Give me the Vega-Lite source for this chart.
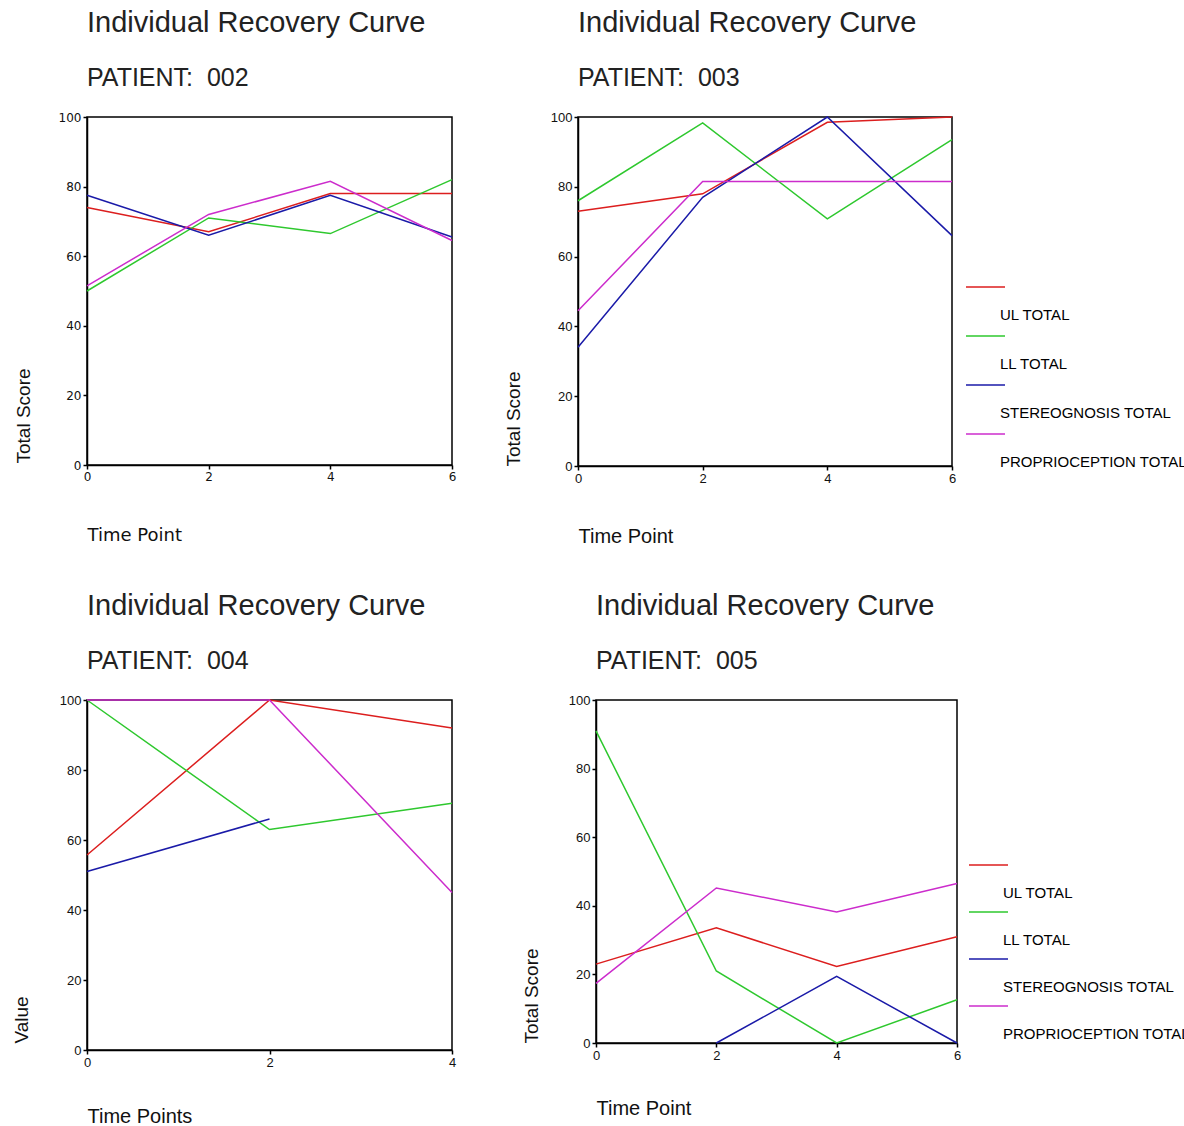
{
  "$schema": "https://vega.github.io/schema/vega-lite/v6.json",
  "autosize": {"type": "none"},
  "padding": {"left": 87, "top": 117, "right": 1097, "bottom": 1009},
  "background": "white",
  "bounds": "flush",
  "spacing": 583,
  "resolve": {"scale": {"color": "independent", "x": "independent", "y": "independent"}, "legend": {"color": "independent"}},
  "config": {
    "view": {"stroke": "#000", "strokeWidth": 1.5},
    "axis": {"domainColor": "#000", "domainWidth": 1.5, "tickColor": "#000", "tickWidth": 1.5, "tickSize": 4, "grid": false, "labelColor": "#111", "titleColor": "#111", "labelFont": "Liberation Sans", "labelFontSize": 13, "titleFont": "Liberation Sans", "titleFontWeight": "normal", "titleFontSize": 20, "labelPadding": 2, "labelFlush": false},
    "title": {"font": "Liberation Sans", "fontSize": 29, "fontWeight": "normal", "color": "#222", "subtitleFont": "Liberation Sans", "subtitleFontSize": 25, "subtitleColor": "#222", "anchor": "start", "frame": "group", "offset": 20, "subtitlePadding": 28},
    "line": {"strokeWidth": 1.5}
  },
  "data": {"values": [
    {"patient": "002", "time": 0, "series": "UL TOTAL", "value": 74},
    {"patient": "002", "time": 2, "series": "UL TOTAL", "value": 67},
    {"patient": "002", "time": 4, "series": "UL TOTAL", "value": 78},
    {"patient": "002", "time": 6, "series": "UL TOTAL", "value": 78},
    {"patient": "002", "time": 0, "series": "LL TOTAL", "value": 50},
    {"patient": "002", "time": 2, "series": "LL TOTAL", "value": 71},
    {"patient": "002", "time": 4, "series": "LL TOTAL", "value": 66.5},
    {"patient": "002", "time": 6, "series": "LL TOTAL", "value": 82},
    {"patient": "002", "time": 0, "series": "STEREOGNOSIS TOTAL", "value": 77.5},
    {"patient": "002", "time": 2, "series": "STEREOGNOSIS TOTAL", "value": 66},
    {"patient": "002", "time": 4, "series": "STEREOGNOSIS TOTAL", "value": 77.5},
    {"patient": "002", "time": 6, "series": "STEREOGNOSIS TOTAL", "value": 65.5},
    {"patient": "002", "time": 0, "series": "PROPRIOCEPTION TOTAL", "value": 51.5},
    {"patient": "002", "time": 2, "series": "PROPRIOCEPTION TOTAL", "value": 72},
    {"patient": "002", "time": 4, "series": "PROPRIOCEPTION TOTAL", "value": 81.5},
    {"patient": "002", "time": 6, "series": "PROPRIOCEPTION TOTAL", "value": 64.5},
    {"patient": "003", "time": 0, "series": "UL TOTAL", "value": 73},
    {"patient": "003", "time": 2, "series": "UL TOTAL", "value": 78},
    {"patient": "003", "time": 4, "series": "UL TOTAL", "value": 98.5},
    {"patient": "003", "time": 6, "series": "UL TOTAL", "value": 100},
    {"patient": "003", "time": 0, "series": "LL TOTAL", "value": 76},
    {"patient": "003", "time": 2, "series": "LL TOTAL", "value": 98.3},
    {"patient": "003", "time": 4, "series": "LL TOTAL", "value": 70.8},
    {"patient": "003", "time": 6, "series": "LL TOTAL", "value": 93.5},
    {"patient": "003", "time": 0, "series": "STEREOGNOSIS TOTAL", "value": 34},
    {"patient": "003", "time": 2, "series": "STEREOGNOSIS TOTAL", "value": 77},
    {"patient": "003", "time": 4, "series": "STEREOGNOSIS TOTAL", "value": 100},
    {"patient": "003", "time": 6, "series": "STEREOGNOSIS TOTAL", "value": 66},
    {"patient": "003", "time": 0, "series": "PROPRIOCEPTION TOTAL", "value": 44.5},
    {"patient": "003", "time": 2, "series": "PROPRIOCEPTION TOTAL", "value": 81.5},
    {"patient": "003", "time": 4, "series": "PROPRIOCEPTION TOTAL", "value": 81.5},
    {"patient": "003", "time": 6, "series": "PROPRIOCEPTION TOTAL", "value": 81.5},
    {"patient": "004", "time": 0, "series": "UL TOTAL", "value": 55.7},
    {"patient": "004", "time": 2, "series": "UL TOTAL", "value": 100},
    {"patient": "004", "time": 4, "series": "UL TOTAL", "value": 92},
    {"patient": "004", "time": 0, "series": "LL TOTAL", "value": 100},
    {"patient": "004", "time": 2, "series": "LL TOTAL", "value": 63},
    {"patient": "004", "time": 4, "series": "LL TOTAL", "value": 70.5},
    {"patient": "004", "time": 0, "series": "STEREOGNOSIS TOTAL", "value": 51},
    {"patient": "004", "time": 2, "series": "STEREOGNOSIS TOTAL", "value": 66},
    {"patient": "004", "time": 0, "series": "PROPRIOCEPTION TOTAL", "value": 100},
    {"patient": "004", "time": 2, "series": "PROPRIOCEPTION TOTAL", "value": 100},
    {"patient": "004", "time": 4, "series": "PROPRIOCEPTION TOTAL", "value": 45},
    {"patient": "005", "time": 0, "series": "UL TOTAL", "value": 23},
    {"patient": "005", "time": 2, "series": "UL TOTAL", "value": 33.6},
    {"patient": "005", "time": 4, "series": "UL TOTAL", "value": 22.3},
    {"patient": "005", "time": 6, "series": "UL TOTAL", "value": 31},
    {"patient": "005", "time": 0, "series": "LL TOTAL", "value": 91},
    {"patient": "005", "time": 2, "series": "LL TOTAL", "value": 21},
    {"patient": "005", "time": 4, "series": "LL TOTAL", "value": 0},
    {"patient": "005", "time": 6, "series": "LL TOTAL", "value": 12.6},
    {"patient": "005", "time": 2, "series": "STEREOGNOSIS TOTAL", "value": 0},
    {"patient": "005", "time": 4, "series": "STEREOGNOSIS TOTAL", "value": 19.4},
    {"patient": "005", "time": 6, "series": "STEREOGNOSIS TOTAL", "value": 0},
    {"patient": "005", "time": 0, "series": "PROPRIOCEPTION TOTAL", "value": 17.4},
    {"patient": "005", "time": 2, "series": "PROPRIOCEPTION TOTAL", "value": 45.2},
    {"patient": "005", "time": 4, "series": "PROPRIOCEPTION TOTAL", "value": 38.2},
    {"patient": "005", "time": 6, "series": "PROPRIOCEPTION TOTAL", "value": 46.5}
  ]},
  "vconcat": [
    {
      "bounds": "flush",
      "spacing": 126,
      "resolve": {"scale": {"color": "independent", "x": "independent", "y": "independent"}, "legend": {"color": "independent"}},
      "hconcat": [
        {
          "width": 365, "height": 348,
          "title": {"text": "Individual Recovery Curve", "subtitle": "PATIENT: \u00a0002"},
          "transform": [{"filter": "datum.patient === '002'"}],
          "mark": {"type": "line", "strokeWidth": 1.5},
          "encoding": {
            "x": {"field": "time", "type": "quantitative", "scale": {"domain": [0, 6], "nice": false},
                  "axis": {"values": [0, 2, 4, 6], "title": "Time Point", "titleFont": "DejaVu Sans", "titleFontSize": 18, "titleX": 0, "titleY": 75, "titleAnchor": "start", "titleAlign": "left", "titleBaseline": "alphabetic", "labelFont": "DejaVu Sans", "labelFontSize": 12}},
            "y": {"field": "value", "type": "quantitative", "scale": {"domain": [0, 100], "nice": false},
                  "axis": {"values": [0, 20, 40, 60, 80, 100], "title": "Total Score", "titleFontSize": 19, "titleX": -54, "titleY": 346, "titleAngle": 270, "titleAlign": "left", "titleBaseline": "bottom", "labelFont": "DejaVu Sans", "labelFontSize": 12}},
            "color": {"field": "series", "type": "nominal",
                      "scale": {"domain": ["UL TOTAL", "LL TOTAL", "STEREOGNOSIS TOTAL", "PROPRIOCEPTION TOTAL"], "range": ["#dc1e1e", "#2ec82e", "#1a1aa8", "#cc2ccc"]},
                      "legend": null}
          }
        },
        {
          "width": 374, "height": 349,
          "title": {"text": "Individual Recovery Curve", "subtitle": "PATIENT: \u00a0003"},
          "transform": [{"filter": "datum.patient === '003'"}],
          "mark": {"type": "line", "strokeWidth": 1.5},
          "encoding": {
            "x": {"field": "time", "type": "quantitative", "scale": {"domain": [0, 6], "nice": false},
                  "axis": {"values": [0, 2, 4, 6], "title": "Time Point", "titleFontSize": 20, "titleX": 0, "titleY": 76, "titleAnchor": "start", "titleAlign": "left", "titleBaseline": "alphabetic"}},
            "y": {"field": "value", "type": "quantitative", "scale": {"domain": [0, 100], "nice": false},
                  "axis": {"values": [0, 20, 40, 60, 80, 100], "title": "Total Score", "titleFontSize": 19, "titleX": -55, "titleY": 349, "titleAngle": 270, "titleAlign": "left", "titleBaseline": "bottom"}},
            "color": {"field": "series", "type": "nominal",
                      "scale": {"domain": ["UL TOTAL", "LL TOTAL", "STEREOGNOSIS TOTAL", "PROPRIOCEPTION TOTAL"], "range": ["#dc1e1e", "#2ec82e", "#1a1aa8", "#cc2ccc"]},
                      "legend": {"orient": "none", "legendX": 387, "legendY": 160, "title": null, "padding": 0, "symbolType": "M-1,-0.3H2", "symbolSize": 676, "symbolStrokeWidth": 2, "symbolFillColor": "transparent", "labelFont": "Liberation Sans", "labelFontSize": 15, "labelColor": "#000", "labelBaseline": "top", "labelOffset": 7, "labelLimit": 0, "rowPadding": 3, "labelExpr": "['', datum.label]"}}
          }
        }
      ]
    },
    {
      "bounds": "flush",
      "spacing": 144,
      "resolve": {"scale": {"color": "independent", "x": "independent", "y": "independent"}, "legend": {"color": "independent"}},
      "hconcat": [
        {
          "width": 365, "height": 350,
          "title": {"text": "Individual Recovery Curve", "subtitle": "PATIENT: \u00a0004"},
          "transform": [{"filter": "datum.patient === '004'"}],
          "mark": {"type": "line", "strokeWidth": 1.5},
          "encoding": {
            "x": {"field": "time", "type": "quantitative", "scale": {"domain": [0, 4], "nice": false},
                  "axis": {"values": [0, 2, 4], "title": "Time Points", "titleFontSize": 20, "titleX": 0, "titleY": 72, "titleAnchor": "start", "titleAlign": "left", "titleBaseline": "alphabetic"}},
            "y": {"field": "value", "type": "quantitative", "scale": {"domain": [0, 100], "nice": false},
                  "axis": {"values": [0, 20, 40, 60, 80, 100], "title": "Value", "titleFontSize": 19, "titleX": -56, "titleY": 343, "titleAngle": 270, "titleAlign": "left", "titleBaseline": "bottom"}},
            "color": {"field": "series", "type": "nominal",
                      "scale": {"domain": ["UL TOTAL", "LL TOTAL", "STEREOGNOSIS TOTAL", "PROPRIOCEPTION TOTAL"], "range": ["#dc1e1e", "#2ec82e", "#1a1aa8", "#cc2ccc"]},
                      "legend": null}
          }
        },
        {
          "width": 361, "height": 343,
          "title": {"text": "Individual Recovery Curve", "subtitle": "PATIENT: \u00a0005"},
          "transform": [{"filter": "datum.patient === '005'"}],
          "mark": {"type": "line", "strokeWidth": 1.5},
          "encoding": {
            "x": {"field": "time", "type": "quantitative", "scale": {"domain": [0, 6], "nice": false},
                  "axis": {"values": [0, 2, 4, 6], "title": "Time Point", "titleFontSize": 20, "titleX": 0, "titleY": 71, "titleAnchor": "start", "titleAlign": "left", "titleBaseline": "alphabetic"}},
            "y": {"field": "value", "type": "quantitative", "scale": {"domain": [0, 100], "nice": false},
                  "axis": {"values": [0, 20, 40, 60, 80, 100], "title": "Total Score", "titleFontSize": 19, "titleX": -55, "titleY": 343, "titleAngle": 270, "titleAlign": "left", "titleBaseline": "bottom"}},
            "color": {"field": "series", "type": "nominal",
                      "scale": {"domain": ["UL TOTAL", "LL TOTAL", "STEREOGNOSIS TOTAL", "PROPRIOCEPTION TOTAL"], "range": ["#dc1e1e", "#2ec82e", "#1a1aa8", "#cc2ccc"]},
                      "legend": {"orient": "none", "legendX": 372, "legendY": 155, "title": null, "padding": 0, "symbolType": "M-1,-0.3H2", "symbolSize": 676, "symbolStrokeWidth": 2, "symbolFillColor": "transparent", "labelFont": "Liberation Sans", "labelFontSize": 15, "labelColor": "#000", "labelBaseline": "top", "labelOffset": 7, "labelLimit": 0, "rowPadding": 1, "labelExpr": "['', datum.label]"}}
          }
        }
      ]
    }
  ]
}
